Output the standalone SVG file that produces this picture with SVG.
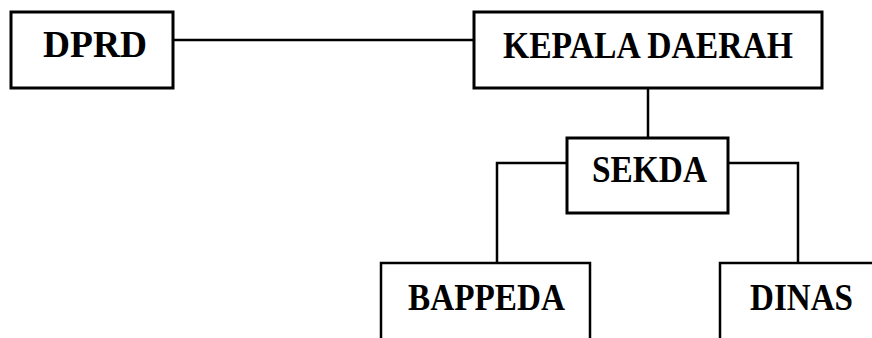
<svg xmlns="http://www.w3.org/2000/svg" width="872" height="338" viewBox="0 0 872 338">
<style>
.box{fill:#fff;stroke:#000;stroke-width:3}
.ln{fill:none;stroke:#000;stroke-width:2.5}
.t{font-family:"Liberation Serif","Times New Roman",serif;font-weight:bold;font-size:37px;fill:#000;text-anchor:middle}
</style>
<rect width="872" height="338" fill="#fff"/>
<g id="connectors">
<line class="ln" x1="173" y1="40" x2="474" y2="40"/>
<line class="ln" x1="648" y1="88" x2="648" y2="138"/>
<polyline class="ln" points="567,163 497,163 497,263"/>
<polyline class="ln" points="728,163 798,163 798,263"/>
</g>
<g id="dprd">
<rect class="box" x="11" y="12" width="162" height="76"/>
<text class="t" x="95" y="57" textLength="104" lengthAdjust="spacingAndGlyphs">DPRD</text>
</g>
<g id="kepala-daerah">
<rect class="box" x="474" y="12" width="348" height="76"/>
<text class="t" x="648" y="58" textLength="290" lengthAdjust="spacingAndGlyphs">KEPALA DAERAH</text>
</g>
<g id="sekda">
<rect class="box" x="567" y="138" width="161" height="75"/>
<text class="t" x="649.5" y="182" textLength="115" lengthAdjust="spacingAndGlyphs">SEKDA</text>
</g>
<g id="bappeda">
<path class="ln" d="M381,340 V263 H590 V340" stroke-width="3"/>
<text class="t" x="486.5" y="310" textLength="157" lengthAdjust="spacingAndGlyphs">BAPPEDA</text>
</g>
<g id="dinas">
<path class="ln" d="M720,340 V263 H875" stroke-width="3"/>
<text class="t" x="801.5" y="310" textLength="103" lengthAdjust="spacingAndGlyphs">DINAS</text>
</g>
</svg>
